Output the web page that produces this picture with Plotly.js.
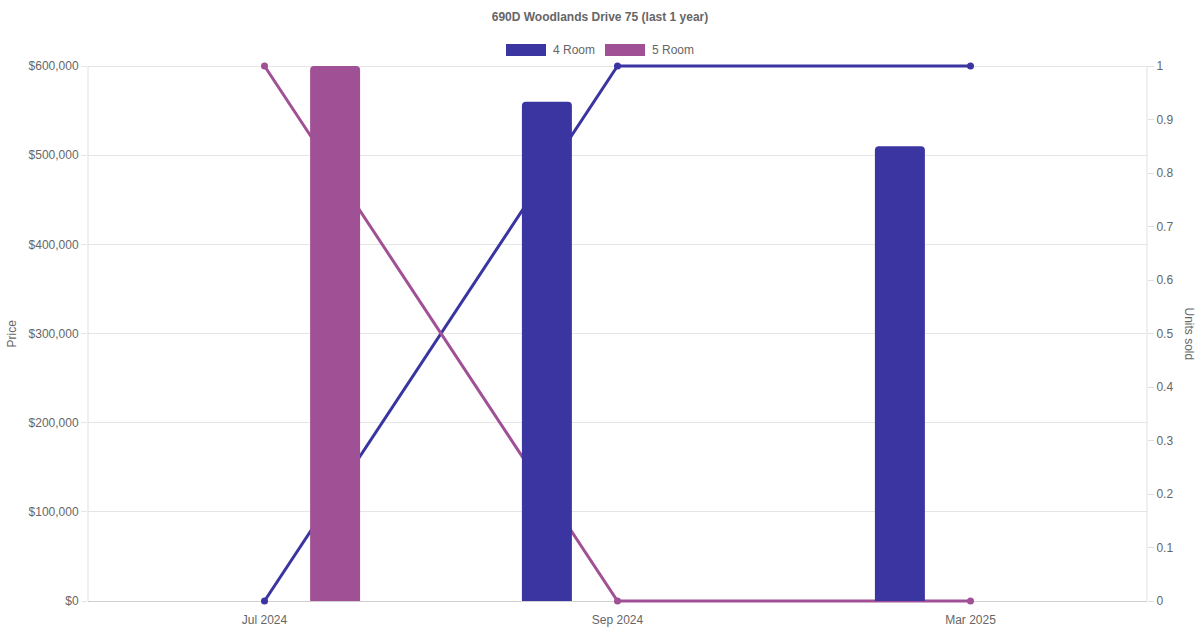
<!DOCTYPE html>
<html>
<head>
<meta charset="utf-8">
<script src="https://cdn.plot.ly/plotly-3.0.1.min.js"></script>
<style>html,body{margin:0;padding:0;background:#fff;}#chart{width:1200px;height:630px;}</style>
</head>
<body>
<div id="chart"></div>
<script>
const categories = ["Jul 2024", "Sep 2024", "Mar 2025"];
const price4Room = [null, 560000, 510000];
const price5Room = [600000, null, null];
const units4Room = [0, 1, 1];
const units5Room = [1, 0, 0];
const seriesNames = ["4 Room", "5 Room"];
const seriesColors = ["#3a35a1", "#a05195"];

const font = {family: "Liberation Sans, Arial, Helvetica, sans-serif", size: 12, color: "#666"};

// plot box: data area 66..601 px, padded by 3 px so thick lines at the edges are not clipped
const PAD = 3, DATA_H = 535, PLOT_H = DATA_H + 2 * PAD;
const padFrac = PAD / DATA_H;
const unitsRange = [0 - padFrac, 1 + padFrac];
const priceMax = 600000;
const priceRange = [-priceMax * padFrac, priceMax * (1 + padFrac)];

const traces = [
  {type: "scatter", mode: "lines+markers", x: categories, y: units4Room, name: seriesNames[0],
   xaxis: "x", yaxis: "y", cliponaxis: false, line: {color: seriesColors[0], width: 3}, marker: {size: 7, color: seriesColors[0]},
   showlegend: false, hoverinfo: "skip"},
  {type: "scatter", mode: "lines+markers", x: categories, y: units5Room, name: seriesNames[1],
   xaxis: "x", yaxis: "y", cliponaxis: false, line: {color: seriesColors[1], width: 3}, marker: {size: 7, color: seriesColors[1]},
   showlegend: false, hoverinfo: "skip"},
  {type: "bar", x: categories, y: price4Room, name: seriesNames[0], xaxis: "x", yaxis: "y2",
   marker: {color: seriesColors[0]}, width: 0.1416, offset: -0.2708, showlegend: false, hoverinfo: "skip"},
  {type: "bar", x: categories, y: price5Room, name: seriesNames[1], xaxis: "x", yaxis: "y2",
   marker: {color: seriesColors[1]}, width: 0.1416, offset: 0.1292, showlegend: false, hoverinfo: "skip"}
];

const pyTop = (DATA_H + PAD) / PLOT_H, pyBot = PAD / PLOT_H;
const legY = (px) => (601 + PAD - px) / PLOT_H;

const layout = {
  width: 1200, height: 630,
  margin: {l: 88, r: 53, t: 66 - PAD, b: 29 - PAD, pad: 0},
  paper_bgcolor: "#fff", plot_bgcolor: "#fff",
  font: font,
  barmode: "overlay",
  barcornerradius: 4,
  showlegend: false,
  title: {text: "<b>690D Woodlands Drive 75 (last 1 year)</b>", x: 0.5, xanchor: "center",
          y: 1 - 17 / 630, yanchor: "middle", font: {family: font.family, size: 12, color: "#666"}},
  xaxis: {type: "category", range: [-0.5, 2.5], showgrid: false, zeroline: false, showline: false,
          ticks: "outside", ticklen: 5, tickcolor: "rgba(0,0,0,0)", tickfont: font,
          fixedrange: true},
  yaxis: {range: unitsRange, tick0: 0, dtick: 0.1, side: "right", showgrid: false, zeroline: false,
          showline: false, ticks: "outside", ticklen: 6, tickcolor: "#e0e0e0", tickfont: font, fixedrange: true},
  yaxis2: {range: priceRange, tick0: 0, dtick: 100000, tickprefix: "$", tickformat: ",", overlaying: "y", side: "left",
           showgrid: true, gridcolor: "#e5e5e5", gridwidth: 1,
           zeroline: true, zerolinecolor: "#d0d0d0", zerolinewidth: 1, showline: false,
           ticks: "outside", ticklen: 6, tickcolor: "#e5e5e5", tickfont: font, fixedrange: true},
  shapes: [
    {type: "line", xref: "paper", yref: "paper", x0: 0, x1: 0, y0: pyBot, y1: pyTop, line: {color: "#e0e0e0", width: 1}},
    {type: "line", xref: "paper", yref: "paper", x0: 1, x1: 1, y0: pyBot, y1: pyTop, line: {color: "#e0e0e0", width: 1}},
    {type: "rect", xref: "paper", yref: "paper", x0: (506 - 88) / 1059, x1: (546 - 88) / 1059,
     y0: legY(56), y1: legY(44), fillcolor: seriesColors[0], line: {width: 0}},
    {type: "rect", xref: "paper", yref: "paper", x0: (605 - 88) / 1059, x1: (645 - 88) / 1059,
     y0: legY(56), y1: legY(44), fillcolor: seriesColors[1], line: {width: 0}}
  ],
  annotations: [
    {text: seriesNames[0], xref: "paper", yref: "paper", x: (551 - 88) / 1059, y: legY(50),
     xanchor: "left", yanchor: "middle", showarrow: false, font: font},
    {text: seriesNames[1], xref: "paper", yref: "paper", x: (650 - 88) / 1059, y: legY(50),
     xanchor: "left", yanchor: "middle", showarrow: false, font: font},
    {text: "Price", xref: "paper", yref: "paper", x: (11 - 88) / 1059, y: 0.5,
     xanchor: "center", yanchor: "middle", textangle: -90, showarrow: false, font: font},
    {text: "Units sold", xref: "paper", yref: "paper", x: (1189 - 88) / 1059, y: 0.5,
     xanchor: "center", yanchor: "middle", textangle: 90, showarrow: false, font: font}
  ]
};

Plotly.newPlot("chart", traces, layout, {displayModeBar: false, staticPlot: true});
</script>
</body>
</html>
